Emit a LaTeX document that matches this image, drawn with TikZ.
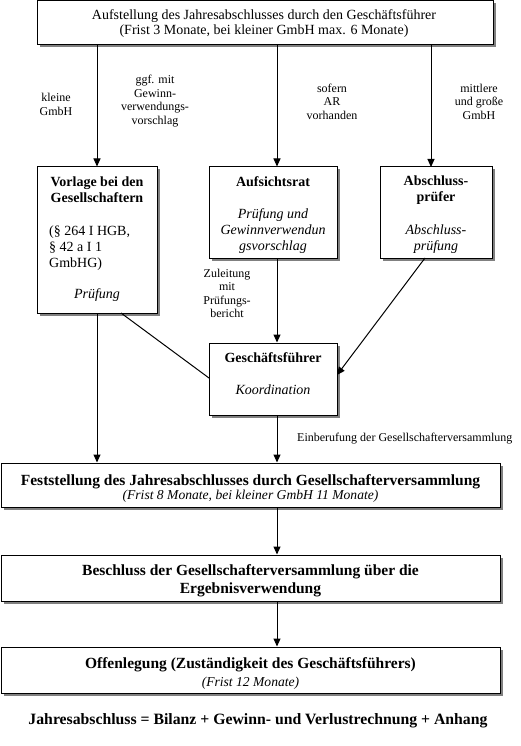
\documentclass[tikz,border=0pt]{standalone}
\usepackage{fontspec}
\setmainfont{Liberation Serif}
\usetikzlibrary{arrows.meta,shadows}
\begin{document}
\begin{tikzpicture}[x=1pt,y=-1pt,
  box/.style={draw=black,line width=1pt,fill=white,inner sep=0pt,
    drop shadow={shadow xshift=2.5pt,shadow yshift=-2.5pt,fill=black!50,opacity=1}},
  arr/.style={line width=1pt,-{Triangle[length=8pt,width=7pt]}},
  ln/.style={line width=1pt},
  lab/.style={font=\fontsize{12}{13.5}\selectfont,align=center,inner sep=0pt},
  tx/.style={font=\fontsize{14}{16}\selectfont,align=center,inner sep=0pt},
  bx/.style={font=\fontsize{14}{16}\selectfont\bfseries,align=center,inner sep=0pt},
  ix/.style={font=\fontsize{14}{16}\selectfont\itshape,align=center,inner sep=0pt},
  bigb/.style={font=\fontsize{15.5}{18}\selectfont\bfseries,align=center,inner sep=0pt},
  smi/.style={font=\fontsize{13.6}{16}\selectfont\itshape,align=center,inner sep=0pt}]
\useasboundingbox (0,0) rectangle (520,746);
% boxes
\node[box,minimum width=456pt,minimum height=44pt] (top) at (265,23) {};
\node[box,minimum width=120pt,minimum height=146pt] (vor) at (97,240) {};
\node[box,minimum width=128pt,minimum height=91pt] (ar) at (273,212.5) {};
\node[box,minimum width=112pt,minimum height=91pt] (ap) at (436,212.5) {};
\node[box,minimum width=128pt,minimum height=72pt] (gf) at (273,379) {};
\node[box,minimum width=499pt,minimum height=44pt] (fest) at (250.5,485) {};
\node[box,minimum width=499pt,minimum height=46pt] (bes) at (250.5,578) {};
\node[box,minimum width=499pt,minimum height=46pt] (off) at (250.5,670) {};
% texts
\node[tx,font=\fontsize{14}{15}\selectfont] (topt) at (264,23.5) {Aufstellung des Jahresabschlusses durch den Gesch\"aftsf\"uhrer\\(Frist 3 Monate, bei kleiner GmbH max. 6 Monate)};
\node[bx] (vort) at (97,190) {Vorlage bei den\\Gesellschaftern};
\node[tx,align=left,anchor=west] (vorp) at (49,248) {(\S\ 264 I HGB,\\\S\ 42 a I 1\\GmbHG)};
\node[ix] (vori) at (97,295) {Pr\"ufung};
\node[bx] (art) at (273,182) {Aufsichtsrat};
\node[ix] (ari) at (273,231) {Pr\"ufung und\\Gewinnverwendun\\gsvorschlag};
\node[bx] (apt) at (436,190) {Abschluss-\\pr\"ufer};
\node[ix] (api) at (436,239) {Abschluss-\\pr\"ufung};
\node[bx] (gft) at (273,358) {Gesch\"aftsf\"uhrer};
\node[ix] (gfi) at (273,390) {Koordination};
\node[bigb] (festt) at (250.5,482) {Feststellung des Jahresabschlusses durch Gesellschafterversammlung};
\node[smi] (festi) at (250.5,496.5) {(Frist 8 Monate, bei kleiner GmbH 11 Monate)};
\node[bigb] (best) at (250.5,581) {Beschluss der Gesellschafterversammlung \"uber die\\Ergebnisverwendung};
\node[bigb] (offt) at (250.5,665) {Offenlegung (Zust\"andigkeit des Gesch\"aftsf\"uhrers)};
\node[smi] (offi) at (250.5,683) {(Frist 12 Monate)};
\node[font=\fontsize{15.75}{18}\selectfont\bfseries,inner sep=0pt] (sum) at (258,721) {Jahresabschluss = Bilanz + Gewinn- und Verlustrechnung + Anhang};
% labels
\node[lab] (l1) at (56,104.5) {kleine\\GmbH};
\node[lab] (l2) at (155,101) {ggf. mit\\Gewinn-\\verwendungs-\\vorschlag};
\node[lab] (l3) at (332,101.5) {sofern\\AR\\vorhanden};
\node[lab] (l4) at (479,101.5) {mittlere\\und gro\ss e\\GmbH};
\node[lab] (l5) at (227,293.5) {Zuleitung\\mit\\Pr\"ufungs-\\bericht};
\node[lab,anchor=west] (l6) at (297,439) {Einberufung der Gesellschafterversammlung};
% connectors
\coordinate (mid) at (277,0);
\draw[arr] (top.south -| vor.north) -- (vor.north);
\draw[arr] (top.south -| mid) -- (ar.north -| mid);
\coordinate (apn) at (431,167);
\draw[arr] (top.south -| apn) -- (apn);
\draw[arr] (vor.south) -- (vor.south |- fest.north);
\coordinate (v1) at (121,313);
\coordinate (g1) at (209,378);
\draw[ln] (v1) -- (g1);
\draw[arr] (ar.south -| mid) -- (gf.north -| mid);
\coordinate (a1) at (425,258);
\coordinate (g2) at (337,375);
\draw[arr] (a1) -- (g2);
\draw[arr] (gf.south -| mid) -- (fest.north -| mid);
\draw[arr] (fest.south -| mid) -- (bes.north -| mid);
\draw[arr] (bes.south -| mid) -- (off.north -| mid);
\end{tikzpicture}
\end{document}
